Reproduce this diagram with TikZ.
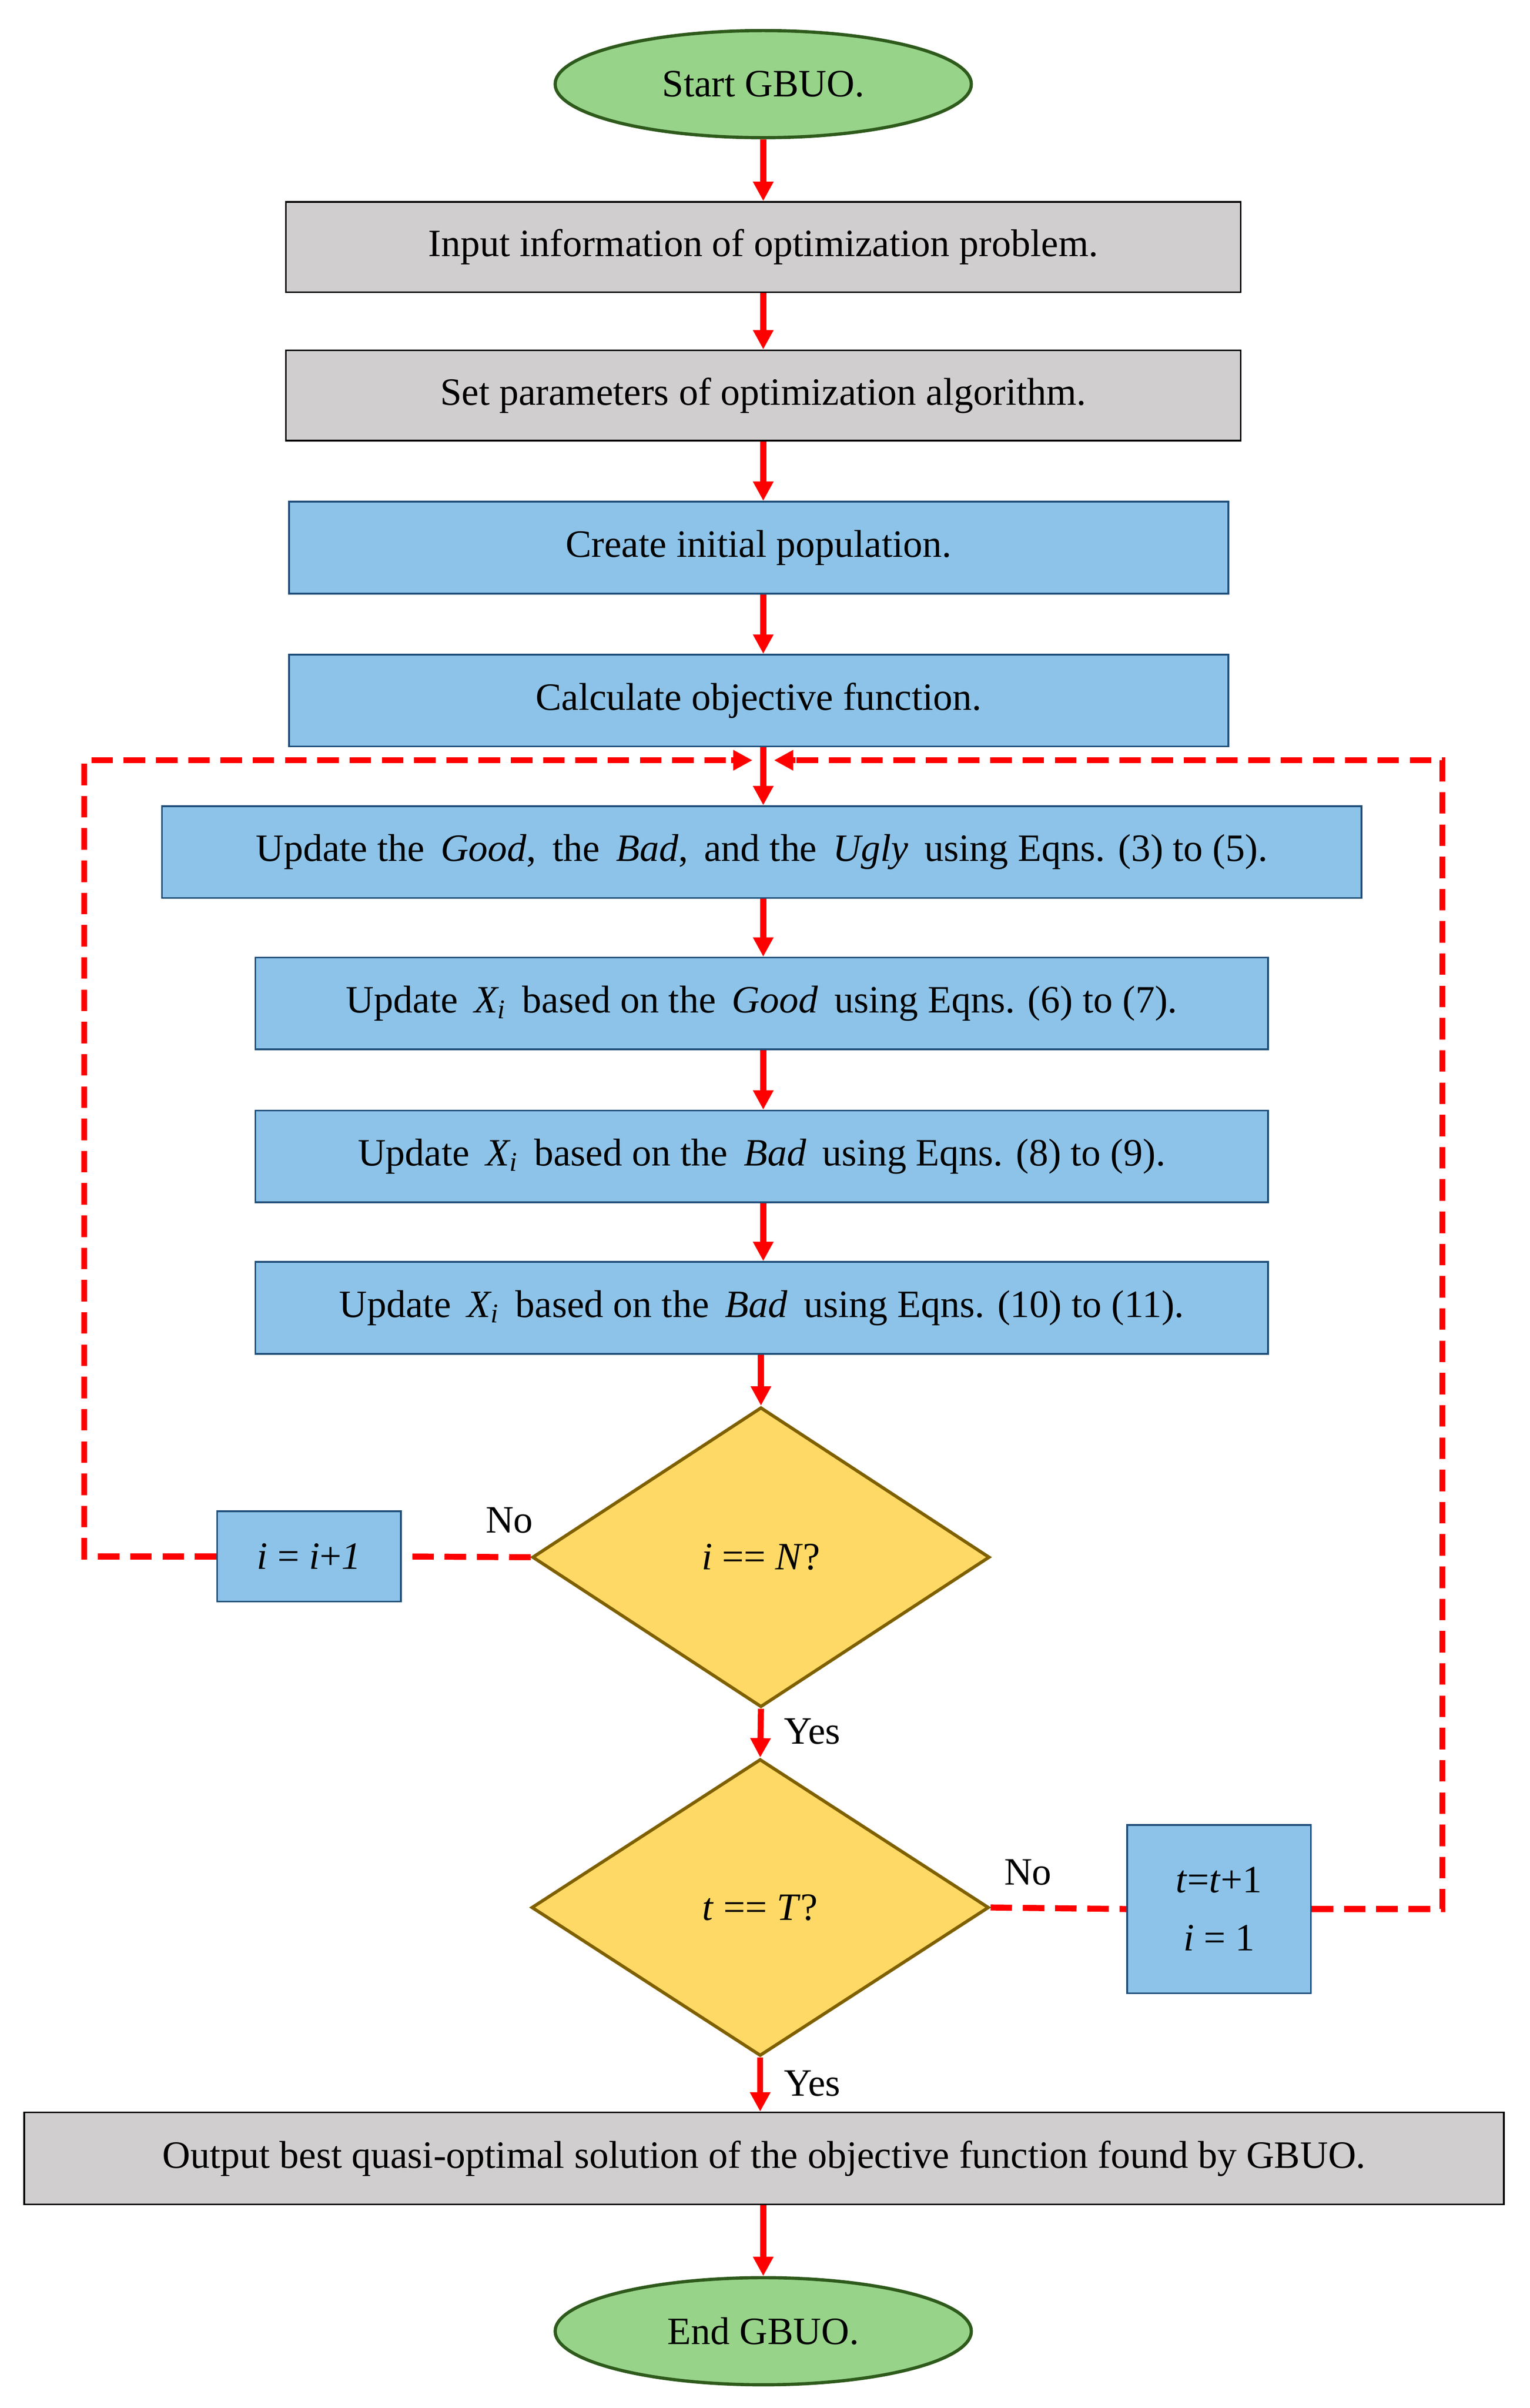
\documentclass[tikz,border=0pt]{standalone}
\usepackage{fontspec}
\setmainfont{Liberation Serif}
\usetikzlibrary{shapes.geometric,arrows.meta}
\definecolor{bfill}{HTML}{8DC3E8}\definecolor{bdraw}{HTML}{1F4E79}
\definecolor{gfill}{HTML}{D0CECE}
\definecolor{efill}{HTML}{98D38A}\definecolor{edraw}{HTML}{2E5A1C}
\definecolor{yfill}{HTML}{FFD966}\definecolor{ydraw}{HTML}{7F6000}
\begin{document}
\begin{tikzpicture}[x=0.025cm,y=-0.025cm,font=\fontsize{18}{21}\selectfont,
 box/.style={draw,line width=0.8pt,inner sep=0pt,minimum height=1.5cm},
 gbox/.style={box,fill=gfill,draw=black},
 bbox/.style={box,fill=bfill,draw=bdraw},
 term/.style={ellipse,draw=edraw,fill=efill,line width=1.5pt,minimum width=6.8cm,minimum height=1.75cm,inner sep=0pt},
 dec/.style={diamond,draw=ydraw,fill=yfill,line width=1.5pt,minimum width=7.475cm,minimum height=4.9cm,inner sep=0pt},
 arr/.style={red,line width=2.8pt,-{Triangle[length=9pt,width=9pt]}},
 dsh/.style={red,line width=2.8pt,dash pattern=on 10pt off 5pt},
 lab/.style={inner sep=0pt}]
\useasboundingbox (0,0) rectangle (1000,1574.2);
\node[term] (s) at (499,55) {Start GBUO.};
\node[gbox,minimum width=15.6cm,minimum height=1.475cm] (b1) at (499,161.5) {Input information of optimization problem.};
\node[gbox,minimum width=15.6cm,minimum height=1.475cm] (b2) at (499,258.5) {Set parameters of optimization algorithm.};
\node[bbox,minimum width=15.35cm] (b3) at (496,358) {Create initial population.};
\node[bbox,minimum width=15.35cm] (b4) at (496,458) {Calculate objective function.};
\node[bbox,minimum width=19.6cm] (b5) at (498,557) {Update the \,\textit{Good},\, the \,\textit{Bad},\, and the \,\textit{Ugly}\, using Eqns. (3) to (5).};
\node[bbox,minimum width=16.55cm] (b6) at (498,656) {Update \,\textit{X\textsubscript{i}}\, based on the \,\textit{Good}\, using Eqns. (6) to (7).};
\node[bbox,minimum width=16.55cm] (b7) at (498,756) {Update \,\textit{X\textsubscript{i}}\, based on the \,\textit{Bad}\, using Eqns. (8) to (9).};
\node[bbox,minimum width=16.55cm] (b8) at (498,855) {Update \,\textit{X\textsubscript{i}}\, based on the \,\textit{Bad}\, using Eqns. (10) to (11).};
\node[dec] (d1) at (497.5,1018) {\textit{i} == \textit{N}?};
\node[bbox,minimum width=3cm,minimum height=1.475cm] (ib) at (202,1017.5) {\textit{i} = \textit{i}+\textit{1}};
\node[dec,minimum height=4.85cm] (d2) at (497,1247) {\textit{t} == \textit{T}?};
\node[bbox,minimum width=3cm,minimum height=2.75cm,align=center] (tb) at (797,1248) {\textit{t}=\textit{t}+1\\[6pt]\textit{i} = 1};
\node[gbox,minimum width=24.175cm] (o) at (499.5,1411) {Output best quasi-optimal solution of the objective function found by GBUO.};
\node[term] (e) at (499,1524) {End GBUO.};
\draw[arr] (s) -- (b1);
\draw[arr] (b1) -- (b2);
\draw[arr] (b2.south) -- (b3.north -| b2.south);
\draw[arr] (b3.south -| b2.south) -- (b4.north -| b2.south);
\draw[arr] (b4.south -| b2.south) -- (b5.north -| b2.south);
\draw[arr] (b5.south -| b2.south) -- (b6.north -| b2.south);
\draw[arr] (b6.south -| b2.south) -- (b7.north -| b2.south);
\draw[arr] (b7.south -| b2.south) -- (b8.north -| b2.south);
\draw[arr] (b8.south -| d1.north) -- (d1.north);
\draw[arr] (d1.south) -- (d2.north);
\draw[arr] (d2.south) -- (o.north -| d2.south);
\draw[arr] (o.south -| e.north) -- (e.north);
\coordinate (cl) at (55,497); \coordinate (jl) at (492,497);
\coordinate (cr) at (943,497); \coordinate (jr) at (506,497);
\draw[dsh] (d1.west) -- (ib.east);
\draw[dsh] (ib.west) -| (cl) -- ([xshift=-8pt]jl);
\draw[arr] ([xshift=-10pt]jl) -- (jl);
\draw[dsh] (d2.east) -- (tb.west);
\draw[dsh] (tb.east) -| (cr) -- ([xshift=8pt]jr);
\draw[arr] ([xshift=10pt]jr) -- (jr);
\node[lab] (n1) at (333,994) {No};
\node[lab] (y1) at (531,1132) {Yes};
\node[lab] (n2) at (672,1224) {No};
\node[lab] (y2) at (531,1362) {Yes};
\end{tikzpicture}
\end{document}
